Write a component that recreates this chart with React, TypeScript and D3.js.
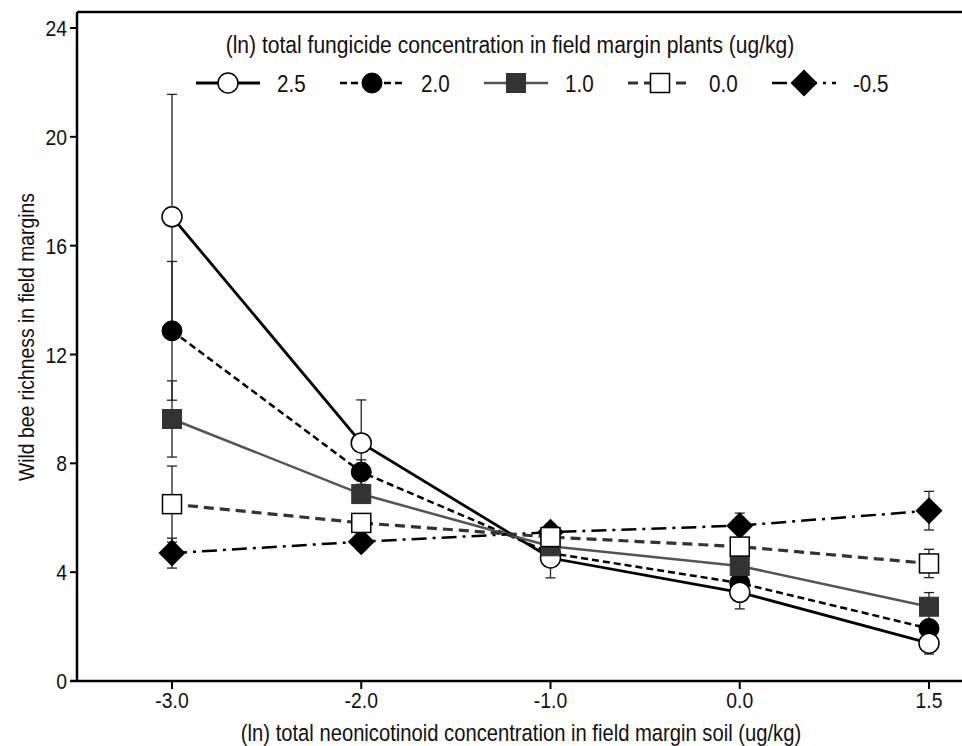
import React from "react";
import * as d3 from "d3";

const categories = ["-3.0", "-2.0", "-1.0", "0.0", "1.5"];
const seriesNames = ["2.5", "2.0", "1.0", "0.0", "-0.5"];
const s25 = [17.06, 8.75, 4.52, 3.26, 1.39];
const e25 = [4.5, 1.58, 0.73, 0.61, 0.4];
const s20 = [12.87, 7.68, 4.7, 3.6, 1.93];
const e20 = [2.55, 0.45, 0.4, 0.4, 0.3];
const s10 = [9.63, 6.87, 4.95, 4.23, 2.73];
const e10 = [1.4, 0.3, 0.3, 0.3, 0.52];
const s00 = [6.5, 5.81, 5.29, 4.94, 4.32];
const e00 = [1.4, 0.3, 0.3, 0.3, 0.52];
const sm05 = [4.7, 5.12, 5.47, 5.71, 6.26];
const em05 = [0.55, 0.3, 0.3, 0.46, 0.71];
const yTicks = [0, 4, 8, 12, 16, 20, 24];

const FONT = "'Liberation Sans', Arial, sans-serif";
const SX = 0.86;

type Series = {
  name: string;
  values: number[];
  errs: number[];
  marker: "circleOpen" | "circleFilled" | "squareDark" | "squareOpen" | "diamond";
  stroke: string;
  width: number;
  dash: string;
};

const series: Series[] = [
  { name: seriesNames[0], values: s25, errs: e25, marker: "circleOpen", stroke: "#000", width: 2.8, dash: "" },
  { name: seriesNames[1], values: s20, errs: e20, marker: "circleFilled", stroke: "#000", width: 2.5, dash: "7,4" },
  { name: seriesNames[2], values: s10, errs: e10, marker: "squareDark", stroke: "#555", width: 2.5, dash: "" },
  { name: seriesNames[3], values: s00, errs: e00, marker: "squareOpen", stroke: "#333", width: 3.2, dash: "10,6" },
  { name: seriesNames[4], values: sm05, errs: em05, marker: "diamond", stroke: "#000", width: 2.5, dash: "15,6,3,6" },
];

const drawOrder = [1, 0, 2, 4, 3];

function Marker({ kind, x, y }: { kind: Series["marker"]; x: number; y: number }) {
  switch (kind) {
    case "circleOpen":
      return <circle cx={x} cy={y} r={10} fill="#fff" stroke="#000" strokeWidth={1.5} />;
    case "circleFilled":
      return <circle cx={x} cy={y} r={10} fill="#000" stroke="#000" strokeWidth={1} />;
    case "squareDark":
      return <rect x={x - 9.5} y={y - 9.5} width={19} height={19} fill="#333" stroke="#333" strokeWidth={1} />;
    case "squareOpen":
      return <rect x={x - 9.5} y={y - 9.5} width={19} height={19} fill="#fff" stroke="#000" strokeWidth={1.5} />;
    case "diamond":
      return (
        <path
          d={`M${x},${y - 13.5}L${x + 13.5},${y}L${x},${y + 13.5}L${x - 13.5},${y}Z`}
          fill="#000"
        />
      );
  }
}

function T({
  x,
  y,
  size,
  anchor = "start",
  rotate = 0,
  dy,
  children,
}: {
  x: number;
  y: number;
  size: number;
  anchor?: "start" | "middle" | "end";
  rotate?: number;
  dy?: string;
  children: React.ReactNode;
}) {
  return (
    <text
      transform={`translate(${x},${y}) rotate(${rotate}) scale(${SX},1)`}
      textAnchor={anchor}
      fontSize={size}
      dy={dy}
      fill="#111"
    >
      {children}
    </text>
  );
}

export default function App() {
  const W = 962;
  const H = 746;
  const axisX = 77;
  const topY = 12;
  const x = d3.scalePoint<string>().domain(categories).range([172, 929]);
  const y = d3.scaleLinear().domain([0, 24]).range([681, 28]);
  const line = d3
    .line<number>()
    .x((_, i) => x(categories[i]) as number)
    .y((d) => y(d));

  return (
    <svg
      width={W}
      height={H}
      style={{ position: "absolute", left: 0, top: 0, background: "#fff" }}
      fontFamily={FONT}
    >
      <rect x={0} y={0} width={W} height={H} fill="#fff" />
      {/* frame */}
      <line x1={axisX} y1={topY} x2={W} y2={topY} stroke="#000" strokeWidth={2.5} />
      <line x1={axisX} y1={topY} x2={axisX} y2={y(0)} stroke="#000" strokeWidth={2.5} />
      <line x1={70} y1={y(0)} x2={W} y2={y(0)} stroke="#000" strokeWidth={2.5} />
      {/* y ticks */}
      {yTicks.map((t) => (
        <g key={t}>
          <line x1={70} x2={axisX} y1={y(t)} y2={y(t)} stroke="#000" strokeWidth={2} />
          <T x={67} y={y(t)} dy="0.36em" anchor="end" size={22.5}>
            {t}
          </T>
        </g>
      ))}
      {/* x ticks */}
      {categories.map((c) => (
        <g key={c}>
          <line x1={x(c)} x2={x(c)} y1={y(0)} y2={y(0) + 8} stroke="#000" strokeWidth={2} />
          <T x={x(c) as number} y={708} anchor="middle" size={22.5}>
            {c}
          </T>
        </g>
      ))}
      <T x={521} y={741} anchor="middle" size={23.5}>
        (ln) total neonicotinoid concentration in field margin soil (ug/kg)
      </T>
      <T x={34} y={337} anchor="middle" size={22.5} rotate={-90}>
        Wild bee richness in field margins
      </T>

      {/* error bars */}
      {drawOrder.map((si) => {
        const s = series[si];
        return (
          <g key={"e" + s.name} stroke="#222" strokeWidth={1.3}>
            {s.values.map((v, i) => {
              const cx = x(categories[i]) as number;
              const hi = y(v + s.errs[i]);
              const lo = y(v - s.errs[i]);
              return (
                <g key={i}>
                  <line x1={cx} x2={cx} y1={hi} y2={lo} />
                  <line x1={cx - 5} x2={cx + 5} y1={hi} y2={hi} />
                  <line x1={cx - 5} x2={cx + 5} y1={lo} y2={lo} />
                </g>
              );
            })}
          </g>
        );
      })}
      {/* lines */}
      {drawOrder.map((si) => {
        const s = series[si];
        return (
          <path
            key={"l" + s.name}
            d={line(s.values) || ""}
            fill="none"
            stroke={s.stroke}
            strokeWidth={s.width}
            strokeDasharray={s.dash}
          />
        );
      })}
      {/* markers */}
      {drawOrder.map((si) => {
        const s = series[si];
        return (
          <g key={"m" + s.name}>
            {s.values.map((v, i) => (
              <Marker key={i} kind={s.marker} x={x(categories[i]) as number} y={y(v)} />
            ))}
          </g>
        );
      })}

      {/* legend */}
      <T x={510} y={53} anchor="middle" size={24.5}>
        (ln) total fungicide concentration in field margin plants (ug/kg)
      </T>
      {series.map((s, i) => {
        const mx = 228 + 144 * i;
        const my = 83;
        return (
          <g key={"lg" + s.name}>
            <line
              x1={mx - 32}
              x2={mx + 32}
              y1={my}
              y2={my}
              stroke={s.stroke}
              strokeWidth={s.width}
              strokeDasharray={s.dash}
            />
            <Marker kind={s.marker} x={mx} y={my} />
            <T x={mx + 49} y={my} dy="0.36em" size={24}>
              {s.name}
            </T>
          </g>
        );
      })}
    </svg>
  );
}
